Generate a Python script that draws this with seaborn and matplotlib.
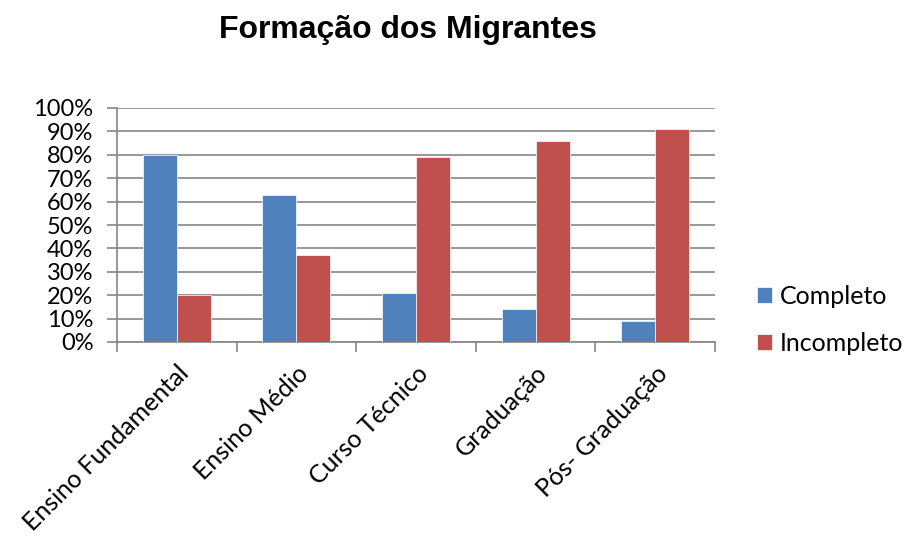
import pandas as pd
import numpy as np
import seaborn as sns
import matplotlib.pyplot as plt
from matplotlib.ticker import FixedLocator, PercentFormatter

# Dados (percentuais)
niveis = ["Ensino Fundamental", "Ensino Médio", "Curso Técnico", "Graduação", "Pós- Graduação"]
completo = [80, 63, 21, 14, 9]
incompleto = [20, 37, 79, 86, 91]
series = ["Completo", "Incompleto"]
cores = ["#4F81BD", "#C0504D"]

df = pd.DataFrame({
    "Nivel": niveis * 2,
    "Valor": completo + incompleto,
    "Situacao": [series[0]] * len(niveis) + [series[1]] * len(niveis),
})

sns.set_style("white")
plt.rcParams["font.family"] = ["Lato", "DejaVu Sans"]
plt.rcParams["text.color"] = "black"
plt.rcParams["xtick.color"] = "black"
plt.rcParams["ytick.color"] = "black"

fig = plt.figure(figsize=(9.07, 5.37), dpi=100)
ax = fig.add_axes([117 / 907, 1 - 342 / 537, (715 - 117) / 907, (342 - 108) / 537])

sns.barplot(data=df, x="Nivel", y="Valor", hue="Situacao", palette=cores,
            width=0.567, gap=0, saturation=1, ax=ax, zorder=3,
            edgecolor="white", linewidth=0.5)

ax.set_ylim(0, 100)
ax.set_xlim(-0.5, len(niveis) - 0.5)
ax.set_yticks(np.arange(0, 101, 10))
ax.yaxis.set_major_formatter(PercentFormatter(decimals=0))
ax.yaxis.grid(True, color="#868686", linewidth=1.2, zorder=0)
ax.set_axisbelow(True)

# marcas do eixo x nos limites das categorias
ax.xaxis.set_minor_locator(FixedLocator(np.arange(-0.5, len(niveis), 1)))
ax.tick_params(axis="x", which="major", length=0, pad=14)
ax.tick_params(axis="x", which="minor", length=7, width=1.2, color="#868686", direction="out", bottom=True)
ax.tick_params(axis="y", length=7, width=1.2, color="#868686", labelcolor="black",
               direction="out", left=True, pad=10)
ax.set_xticks(range(len(niveis)))
ax.set_xticklabels(niveis, rotation=45, ha="right", rotation_mode="anchor", fontsize=18)
for t in ax.get_yticklabels():
    t.set_fontsize(17)

for s in ["top", "right"]:
    ax.spines[s].set_visible(False)
for s in ["left", "bottom"]:
    ax.spines[s].set_color("#868686")
    ax.spines[s].set_linewidth(1.2)

ax.set_xlabel("")
ax.set_ylabel("")

ax.legend(title=None, frameon=False, fontsize=18, loc="center left",
          bbox_to_anchor=(757 / 907, 1 - 320 / 537), bbox_transform=fig.transFigure,
          handlelength=0.6, handleheight=0.6, handletextpad=0.3, labelspacing=0.95,
          borderaxespad=0, borderpad=0)

fig.text(408 / 907, 1 - 30 / 537, "Formação dos Migrantes", ha="center", va="center",
         fontsize=23, fontweight="bold", color="black",
         family=["Liberation Sans", "DejaVu Sans"])

fig.savefig("out.png", dpi=100)
